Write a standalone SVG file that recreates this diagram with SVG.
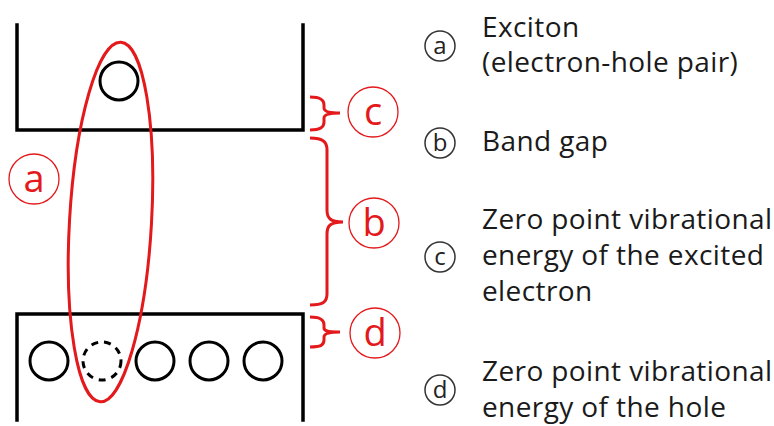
<svg xmlns="http://www.w3.org/2000/svg" width="774" height="426" viewBox="0 0 774 426">
<style>
.band{fill:none;stroke:#000;stroke-width:3.5;stroke-linecap:square}
.ptl{fill:none;stroke:#000;stroke-width:3}
.dash{stroke-dasharray:7 6}
.red{fill:none;stroke:#e3191c;stroke-width:3}
.rc{fill:#fff;stroke:#e3191c;stroke-width:1.3}
.rt{font-family:"Open Sans","Liberation Sans",sans-serif;font-size:38px;fill:#e3191c;text-anchor:middle}
.bc{fill:#fff;stroke:#333;stroke-width:1.5}
.bt{font-family:"Open Sans","Liberation Sans",sans-serif;font-size:24px;fill:#222;text-anchor:middle}
.lt{font-family:"Open Sans","Liberation Sans",sans-serif;font-size:28px;letter-spacing:0.4px;fill:#1a1a1a}
</style>
<rect width="774" height="426" fill="#fff"/>
<g id="conduction-band">
<path class="band" d="M17,25 V130 H303 V25"/>
<circle class="ptl" cx="119" cy="81" r="19"/>
</g>
<g id="valence-band">
<path class="band" d="M17,420 V314 H303 V420"/>
<circle class="ptl" cx="49" cy="361" r="19"/>
<circle class="ptl dash" cx="102" cy="361" r="19"/>
<circle class="ptl" cx="155" cy="361" r="19"/>
<circle class="ptl" cx="209" cy="361" r="19"/>
<circle class="ptl" cx="263" cy="361" r="19"/>
</g>
<g id="connectors">
<ellipse class="red" cx="110.5" cy="222" rx="41" ry="180" transform="rotate(3.3 110.5 222)"/>
<path class="red" d="M310,97 C321,97 324,100 324,105 L324,108 C324,111 327,113 340,113 C327,113 324,115 324,118 L324,122 C324,127 321,130 310,130"/>
<path class="red" d="M310,138 C323,138 327,142 327,150 L327,210 C327,218 330,222 343,222 C330,222 327,226 327,234 L327,294 C327,302 323,305 310,305"/>
<path class="red" d="M310,317 C321,317 324,320 324,325 L324,328 C324,331 327,332 340,332 C327,332 324,334 324,337 L324,340 C324,345 321,347 310,347"/>
</g>
<g id="label-a"><circle class="rc" cx="34" cy="179" r="25"/><text class="rt" x="34" y="192">a</text></g>
<g id="label-b"><circle class="rc" cx="374" cy="223" r="25"/><text class="rt" x="374" y="236">b</text></g>
<g id="label-c"><circle class="rc" cx="373" cy="112" r="25"/><text class="rt" x="373" y="125">c</text></g>
<g id="label-d"><circle class="rc" cx="375" cy="333" r="25"/><text class="rt" x="375" y="346">d</text></g>
<g id="legend-a"><circle class="bc" cx="440" cy="46" r="15"/><text class="bt" x="440" y="54">a</text>
<text class="lt" x="482" y="37">Exciton</text><text class="lt" x="482" y="72">(electron-hole pair)</text></g>
<g id="legend-b"><circle class="bc" cx="440" cy="143" r="15"/><text class="bt" x="440" y="151">b</text>
<text class="lt" x="482" y="151">Band gap</text></g>
<g id="legend-c"><circle class="bc" cx="440" cy="257" r="15"/><text class="bt" x="440" y="265">c</text>
<text class="lt" x="482" y="229">Zero point vibrational</text><text class="lt" x="482" y="265">energy of the excited</text><text class="lt" x="482" y="301">electron</text></g>
<g id="legend-d"><circle class="bc" cx="440" cy="390" r="15"/><text class="bt" x="440" y="398">d</text>
<text class="lt" x="482" y="381">Zero point vibrational</text><text class="lt" x="482" y="417">energy of the hole</text></g>
</svg>
